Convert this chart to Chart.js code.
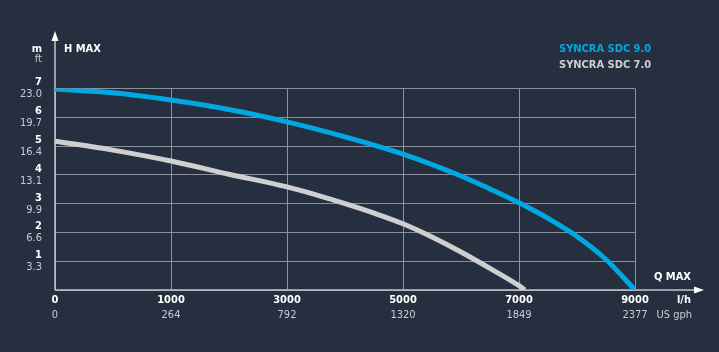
<!DOCTYPE html>
<html>
<head>
<meta charset="utf-8">
<script src="https://cdn.jsdelivr.net/npm/chart.js@4"></script>
<style>
  html, body { margin: 0; padding: 0; background: #252f3f; }
  #wrap { width: 719px; height: 352px; }
</style>
</head>
<body>
<div id="wrap"><canvas id="pumpChart"></canvas></div>
<script>
// axis tick labels (grid steps are evenly spaced)
var flowLh = ['0', '1000', '3000', '5000', '7000', '9000'];
var flowGph = ['0', '264', '792', '1320', '1849', '2377'];
var headM = [0, 1, 2, 3, 4, 5, 6, 7];
var headFt = ['', '3.3', '6.6', '9.9', '13.1', '16.4', '19.7', '23.0'];

// curves, x in grid steps along the flow axis, y in metres
var sdc9Q = [0, 0.5, 1, 1.5, 2, 2.5, 3, 3.5, 3.75, 4, 4.25, 4.5, 4.75, 5];
var sdc9H = [6.98, 6.85, 6.6, 6.27, 5.84, 5.32, 4.72, 3.96, 3.51, 3.03, 2.49, 1.86, 1.06, 0];
var sdc7Q = [0, 0.5, 1, 1.5, 2, 2.5, 2.75, 3, 3.25, 3.5, 3.75, 4, 4.05];
var sdc7H = [5.17, 4.86, 4.48, 4.02, 3.58, 3.0, 2.67, 2.3, 1.84, 1.32, 0.75, 0.15, 0];

var seriesNames = ['SYNCRA SDC 9.0', 'SYNCRA SDC 7.0'];
var blue = '#00a8e1';
var grey = '#cfcfcf';
var font = '"DejaVu Sans Condensed", "Liberation Sans Narrow", Roboto, Arial, sans-serif';

function points(xs, ys) {
    return xs.map(function (x, i) { return { x: x, y: ys[i] }; });
}

var decorPlugin = {
    id: 'decor',
    beforeDraw: function (chart) {
        var c = chart.ctx;
        c.save();
        c.fillStyle = '#252f3f';
        c.fillRect(0, 0, chart.width, chart.height);
        c.restore();
    },
    beforeDatasetsDraw: function (chart) {
        var c = chart.ctx, a = chart.chartArea;
        c.save();
        c.strokeStyle = '#c3c7cd';
        c.fillStyle = '#ffffff';
        c.lineWidth = 1.5;
        // y axis with arrow
        c.beginPath();
        c.moveTo(a.left, a.bottom);
        c.lineTo(a.left, 36);
        c.stroke();
        c.beginPath();
        c.moveTo(a.left - 3.5, 41);
        c.lineTo(a.left, 31);
        c.lineTo(a.left + 3.5, 41);
        c.closePath();
        c.fill();
        // x axis with arrow
        c.beginPath();
        c.moveTo(a.left, a.bottom);
        c.lineTo(698, a.bottom);
        c.stroke();
        c.beginPath();
        c.moveTo(694, a.bottom - 3.5);
        c.lineTo(704, a.bottom);
        c.lineTo(694, a.bottom + 3.5);
        c.closePath();
        c.fill();
        c.restore();
    },
    afterDraw: function (chart) {
        var c = chart.ctx;
        var xs = chart.scales.x, ys = chart.scales.y;
        c.save();
        c.textBaseline = 'middle';

        // secondary tick labels
        c.font = '11px ' + font;
        c.fillStyle = '#c9ccd2';
        c.textAlign = 'right';
        headM.forEach(function (v, i) {
            if (headFt[i]) c.fillText(headFt[i], 42, ys.getPixelForValue(v) + 6);
        });
        c.textAlign = 'center';
        flowGph.forEach(function (t, i) {
            c.fillText(t, xs.getPixelForValue(i), 315);
        });
        c.textAlign = 'right';
        c.fillText('ft', 42, 59);
        c.fillText('US gph', 692, 315);

        // units and axis titles
        c.font = 'bold 11px ' + font;
        c.fillStyle = '#ffffff';
        c.fillText('m', 42, 49);
        c.fillText('l/h', 691, 300);
        c.fillText('Q MAX', 691, 277);
        c.textAlign = 'left';
        c.fillText('H MAX', 64, 49);

        // legend
        c.fillStyle = blue;
        c.fillText(seriesNames[0], 559, 49);
        c.fillStyle = grey;
        c.fillText(seriesNames[1], 559, 65);
        c.restore();
    }
};

var ctx = document.getElementById('pumpChart').getContext('2d');
var pumpChart = new Chart(ctx, {
    type: 'line',
    data: {
        datasets: [{
            label: seriesNames[0],
            data: points(sdc9Q, sdc9H),
            borderColor: blue,
            borderWidth: 5,
            pointRadius: 0,
            cubicInterpolationMode: 'monotone',
            fill: false
        }, {
            label: seriesNames[1],
            data: points(sdc7Q, sdc7H),
            borderColor: grey,
            borderWidth: 5,
            pointRadius: 0,
            cubicInterpolationMode: 'monotone',
            fill: false
        }]
    },
    options: {
        responsive: true,
        maintainAspectRatio: false,
        animation: false,
        events: [],
        layout: { padding: { left: 0, top: 88.5, right: 84, bottom: 0 } },
        plugins: {
            legend: { display: false },
            tooltip: { enabled: false }
        },
        scales: {
            x: {
                type: 'linear',
                min: 0,
                max: 5,
                afterFit: function (s) { s.height = 62; },
                grid: { color: '#8a919c', lineWidth: 1, drawTicks: false },
                border: { display: false },
                ticks: {
                    stepSize: 1,
                    autoSkip: false,
                    maxRotation: 0,
                    padding: 4,
                    color: '#ffffff',
                    font: { family: font, size: 11, weight: 'bold' },
                    callback: function (v) { return flowLh[v]; }
                }
            },
            y: {
                min: 0,
                max: 7,
                afterFit: function (s) { s.width = 55; },
                grid: { color: '#8a919c', lineWidth: 1, drawTicks: false },
                border: { display: false },
                ticks: {
                    stepSize: 1,
                    padding: 13,
                    labelOffset: -6,
                    color: '#ffffff',
                    font: { family: font, size: 11, weight: 'bold' },
                    callback: function (v) { return v === 0 ? '' : String(v); }
                }
            }
        }
    },
    plugins: [decorPlugin]
});
</script>
</body>
</html>
